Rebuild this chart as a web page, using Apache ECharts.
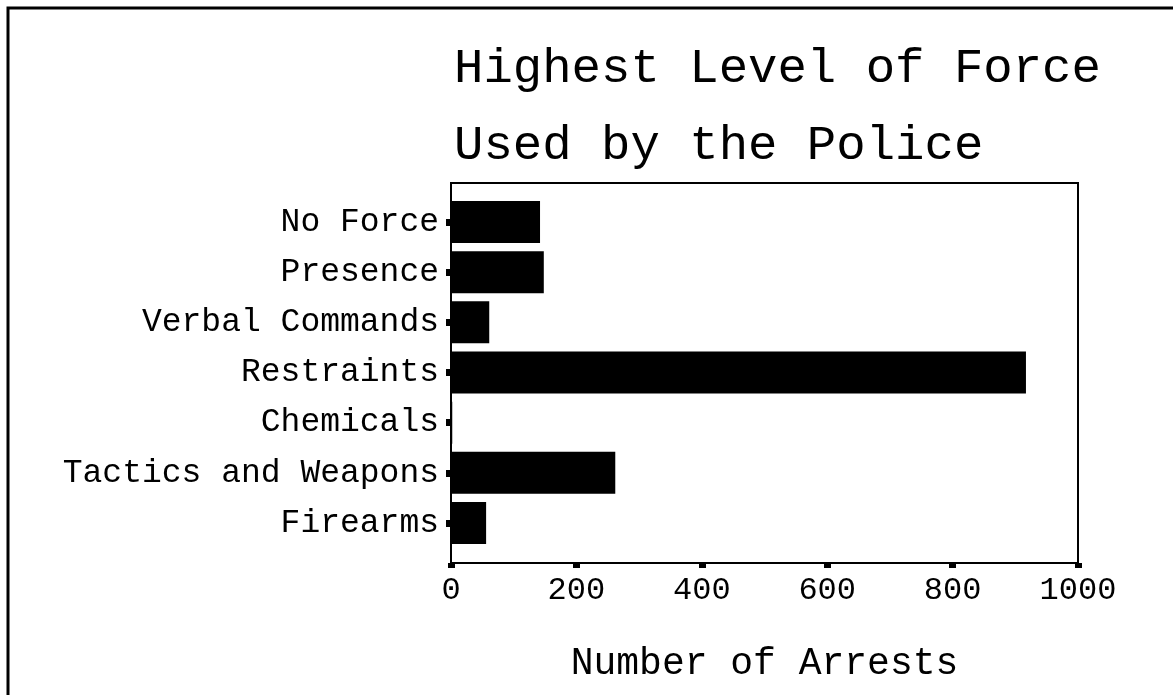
<!DOCTYPE html>
<html>
<head>
	<meta charset="UTF-8">
	<title>Highest Level of Force</title>
	<script src="https://cdn.jsdelivr.net/npm/echarts@6/dist/echarts.min.js"></script>
</head>
<body style="margin:0;background:#fff;">
	<div id="main" style="width: 1173px; height: 695px;"></div>
	<script>
		var font = "'Liberation Mono', 'Courier New', monospace";

		// data
		var categories = ['No Force', 'Presence', 'Verbal Commands', 'Restraints', 'Chemicals', 'Tactics and Weapons', 'Firearms'];
		var arrests = [142, 148, 61, 917, 2, 262, 56];
		var xTicks = { min: 0, max: 1000, interval: 200 };

		var myChart = echarts.init(document.getElementById('main'));

		var option = {
			backgroundColor: '#fff',
			animation: false,
			title: {
				text: 'Highest Level of Force\nUsed by the Police',
				left: 449,
				top: 26,
				textStyle: {
					fontFamily: font,
					fontSize: 49,
					fontWeight: 'normal',
					lineHeight: 77,
					color: '#000'
				}
			},
			// page frame
			graphic: [{
				type: 'polyline',
				shape: { points: [[8, 695], [8, 8], [1173, 8]] },
				style: { stroke: '#000', lineWidth: 3, fill: null }
			}],
			grid: [
				// frame box with the value axis
				{ left: 451, top: 183, right: 95, bottom: 132, show: true, borderColor: '#000', borderWidth: 2 },
				// bars
				{ left: 451, top: 197, right: 95, bottom: 147 }
			],
			xAxis: [{
				gridIndex: 0,
				type: 'value',
				min: xTicks.min,
				max: xTicks.max,
				interval: xTicks.interval,
				axisLine: { show: false },
				axisTick: { show: true, length: 5, lineStyle: { color: '#000', width: 7 } },
				splitLine: { show: false },
				axisLabel: {
					color: '#000', fontFamily: font, fontSize: 32, margin: 12,
					formatter: function (v) { return String(v); }
				},
				name: 'Number of Arrests',
				nameLocation: 'middle',
				nameGap: 82,
				nameTextStyle: { color: '#000', fontFamily: font, fontSize: 38 }
			}, {
				gridIndex: 1,
				type: 'value',
				min: xTicks.min,
				max: xTicks.max,
				show: false
			}],
			yAxis: [{
				gridIndex: 0,
				type: 'value',
				show: false
			}, {
				gridIndex: 1,
				type: 'category',
				data: categories,
				inverse: true,
				axisLine: { show: false },
				axisTick: { show: true, alignWithLabel: true, length: 5, lineStyle: { color: '#000', width: 7 } },
				axisLabel: { color: '#000', fontFamily: font, fontSize: 33, margin: 12, padding: [6, 0, 0, 0] }
			}],
			series: [{
				type: 'bar',
				xAxisIndex: 1,
				yAxisIndex: 1,
				data: arrests,
				barWidth: 42,
				itemStyle: { color: '#000' }
			}]
		};
		myChart.setOption(option);
	</script>
</body>
</html>
